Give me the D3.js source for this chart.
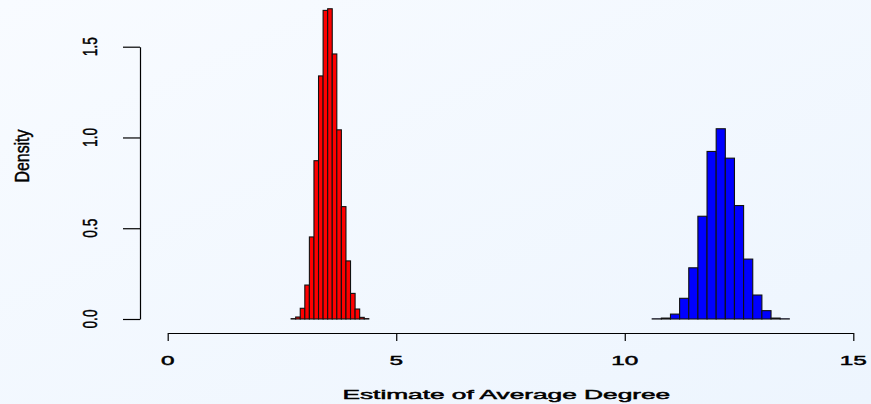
<!DOCTYPE html>
<html>
<head>
<meta charset="utf-8">
<script src="https://cdn.jsdelivr.net/npm/d3@7"></script>
<style>
  html, body { margin: 0; padding: 0; }
  body { width: 871px; height: 404px; overflow: hidden; }
  text { font-family: "Liberation Sans", Arial, sans-serif; fill: #000; stroke: #000; stroke-width: 0.45px; }
</style>
</head>
<body>
<div class="chart"></div>
<script>
var svgWidth = 871;
var svgHeight = 404;

// histogram bins (left edges) and densities
var redBins = [2.7, 2.8, 2.9, 3.0, 3.1, 3.2, 3.3, 3.4, 3.5, 3.6, 3.7, 3.8, 3.9, 4.0, 4.1, 4.2, 4.3];
var redDensity = [0.002, 0.011, 0.059, 0.187, 0.452, 0.872, 1.339, 1.700, 1.709, 1.460, 1.042, 0.619, 0.320, 0.141, 0.055, 0.009, 0.002];
var redWidth = 0.1;

var blueBins = [10.6, 10.8, 11.0, 11.2, 11.4, 11.6, 11.8, 12.0, 12.2, 12.4, 12.6, 12.8, 13.0, 13.2, 13.4];
var blueDensity = [0.001, 0.005, 0.027, 0.114, 0.282, 0.566, 0.923, 1.048, 0.886, 0.625, 0.330, 0.132, 0.046, 0.005, 0.001];
var blueWidth = 0.2;

var xTicks = [0, 5, 10, 15];
var yTicks = [0.0, 0.5, 1.0, 1.5];
var yTickLabels = ["0.0", "0.5", "1.0", "1.5"];
var xTitle = "Estimate of Average Degree";
var yTitle = "Density";

var svg = d3.select(".chart")
  .append("svg")
  .attr("width", svgWidth)
  .attr("height", svgHeight);

// pale blue background, slightly lighter at the top left
var grad = svg.append("defs").append("linearGradient")
  .attr("id", "bg")
  .attr("x1", "0").attr("y1", "0")
  .attr("x2", "1").attr("y2", "1");
grad.append("stop").attr("offset", "0").attr("stop-color", "#f8fbff");
grad.append("stop").attr("offset", "1").attr("stop-color", "#edf5fe");
svg.append("rect")
  .attr("width", svgWidth)
  .attr("height", svgHeight)
  .attr("fill", "url(#bg)");

var x = d3.scaleLinear().domain([0, 15]).range([167.7, 853.3]);
var y = d3.scaleLinear().domain([0, 1.5]).range([319, 46.7]);

// stretch a text (in its own frame) so it fills the wanted length
function fitText(sel, len, base) {
  sel.each(function() {
    var natural = this.getComputedTextLength();
    d3.select(this).attr("transform", base + " scale(" + (len / natural) + ",1)");
  });
}

// Bars
function drawHist(bins, dens, w, color) {
  svg.append("g")
    .selectAll("rect")
    .data(bins)
    .join("rect")
    .attr("x", d => x(d))
    .attr("width", d => x(d + w) - x(d))
    .attr("y", (d, i) => y(dens[i]))
    .attr("height", (d, i) => y(0) - y(dens[i]))
    .attr("fill", color)
    .attr("stroke", "#111")
    .attr("stroke-width", 1.1);
}
drawHist(redBins, redDensity, redWidth, "#ff0000");
drawHist(blueBins, blueDensity, blueWidth, "#0000ff");

// X axis (R style, offset below the bars)
var xAxisY = 333;
var xAxis = svg.append("g")
  .attr("transform", `translate(0, ${xAxisY})`)
  .call(d3.axisBottom(x).tickValues(xTicks).tickSize(8).tickSizeOuter(0).tickFormat(d3.format("d")));
xAxis.select(".domain").attr("stroke", "#000").attr("stroke-width", 1.2);
xAxis.selectAll(".tick line").attr("stroke", "#000").attr("stroke-width", 1.2);
xAxis.selectAll(".tick text").remove();

svg.append("g")
  .selectAll("text")
  .data(xTicks)
  .join("text")
  .attr("text-anchor", "middle")
  .style("font-size", "13px")
  .text(d => d)
  .attr("transform", d => `translate(${x(d)}, 364.5) scale(1.87,1)`);

// Y axis
var yAxisX = 140;
var yAxis = svg.append("g")
  .attr("transform", `translate(${yAxisX}, 0)`)
  .call(d3.axisLeft(y).tickValues(yTicks).tickSize(17).tickSizeOuter(0));
yAxis.select(".domain").attr("stroke", "#000").attr("stroke-width", 1.2);
yAxis.selectAll(".tick line").attr("stroke", "#000").attr("stroke-width", 1.2);
yAxis.selectAll(".tick text").remove();

svg.append("g")
  .selectAll("text")
  .data(yTicks)
  .join("text")
  .attr("text-anchor", "middle")
  .style("font-size", "20px")
  .text((d, i) => yTickLabels[i])
  .each(function(d) {
    fitText(d3.select(this), 19, `translate(97, ${y(d)}) rotate(-90)`);
  });

// Axis titles
svg.append("text")
  .attr("text-anchor", "middle")
  .style("font-size", "12.5px")
  .text(xTitle)
  .call(fitText, 328, "translate(506.3, 399)");

svg.append("text")
  .attr("text-anchor", "middle")
  .style("font-size", "20px")
  .text(yTitle)
  .call(fitText, 53, "translate(28.5, 156) rotate(-90)");
</script>
</body>
</html>
